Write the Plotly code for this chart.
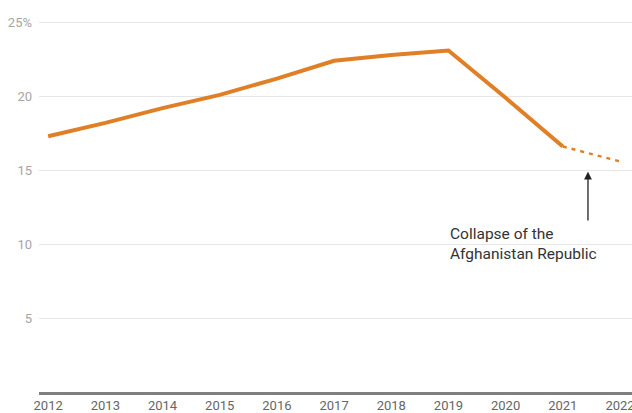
import plotly.graph_objects as go

years = [2012, 2013, 2014, 2015, 2016, 2017, 2018, 2019, 2020, 2021, 2022]
actual = [17.3, 18.2, 19.2, 20.1, 21.2, 22.4, 22.8, 23.1, 19.9, 16.6, None]
projected = [None, None, None, None, None, None, None, None, None, 16.6, 15.6]
y_ticks = [5, 10, 15, 20, 25]
y_labels = ["5", "10", "15", "20", "25%"]
note_text = "Collapse of the<br>Afghanistan Republic"

orange = "#E07F26"

fig = go.Figure()

fig.add_trace(go.Scatter(
    x=years, y=actual, mode="lines",
    line=dict(color=orange, width=4),
    hoverinfo="skip",
))
fig.add_trace(go.Scatter(
    x=years, y=projected, mode="lines",
    line=dict(color=orange, width=2.5, dash="4px,5px"),
    hoverinfo="skip",
))

# arrow pointing at the 2021 drop
fig.add_annotation(
    x=2021.44, y=14.9, ax=2021.44, ay=11.5,
    xref="x", yref="y", axref="x", ayref="y",
    text="", showarrow=True, arrowhead=2, arrowsize=1.2,
    arrowwidth=1.3, arrowcolor="#222",
)
fig.add_annotation(
    x=2019.0, y=10.0, xref="x", yref="y",
    text=note_text, showarrow=False,
    xanchor="left", yanchor="middle", align="left",
    font=dict(size=15.5, color="#333"),
)

fig.update_layout(
    width=632, height=413,
    margin=dict(l=39, r=0, t=15, b=21),
    paper_bgcolor="white", plot_bgcolor="white",
    showlegend=False,
    font=dict(family="Roboto, sans-serif"),
)
fig.update_xaxes(
    range=[2011.84, 2022.21], automargin=False,
    tickvals=years, showgrid=False, zeroline=False,
    showline=True, linecolor="#7f7f7f", linewidth=2.5,
    tickfont=dict(size=13, color="#666"),
    ticklabelstandoff=0, ticklabeloverflow="allow",
)
fig.update_yaxes(
    range=[0, 25.5], automargin=False,
    tickvals=y_ticks, ticktext=y_labels,
    showgrid=True, gridcolor="#e6e6e6", gridwidth=1,
    zeroline=False, showline=False,
    tickfont=dict(size=13, color="#a5a5a5"),
    ticklabelstandoff=6,
)

fig.write_html(
    "out.html",
    config={"displayModeBar": False},
    post_script="document.body.style.margin='0';",
)
